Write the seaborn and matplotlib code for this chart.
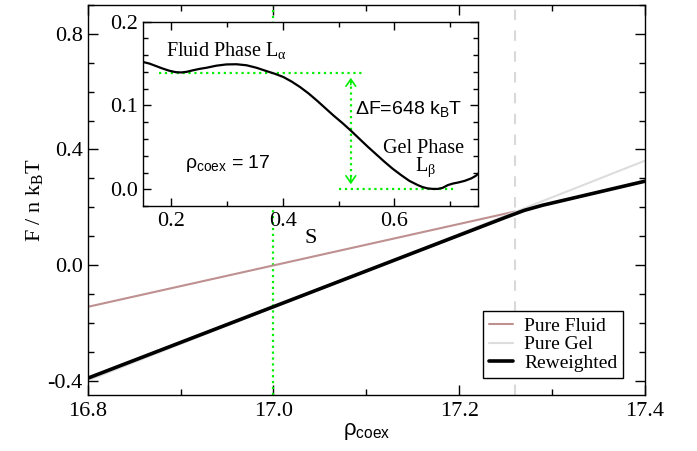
import numpy as np
import pandas as pd
import matplotlib
matplotlib.use("Agg")
import matplotlib.pyplot as plt
from matplotlib.ticker import MultipleLocator, FormatStrFormatter
import seaborn as sns

# main panel: free energy per molecule vs density
rho_fluid = [16.8, 17.26]
F_fluid = [-0.145, 0.185]
rho_gel = [16.8, 17.4]
F_gel = [-0.40, 0.361]
rho_rew = [16.8, 17.25, 17.27, 17.29, 17.4]
F_rew = [-0.392, 0.165, 0.189, 0.207, 0.29]
rho_coex = 17.26
rho_marked = 17.0

# inset: free energy profile along order parameter S at rho = 17
S_vals = [0.149, 0.161, 0.173, 0.185, 0.197, 0.208, 0.218, 0.228, 0.239, 0.251,
          0.263, 0.281, 0.299, 0.317, 0.335, 0.353, 0.371, 0.386, 0.401, 0.416,
          0.431, 0.446, 0.461, 0.476, 0.491, 0.507, 0.522, 0.537, 0.552, 0.567,
          0.582, 0.597, 0.612, 0.627, 0.642, 0.651, 0.660, 0.669, 0.678, 0.687,
          0.696, 0.705, 0.714, 0.726, 0.738, 0.746, 0.753]
F_S = [0.152, 0.150, 0.147, 0.144, 0.1414, 0.1398, 0.1394, 0.1402, 0.142, 0.1437,
       0.145, 0.1475, 0.149, 0.1492, 0.148, 0.145, 0.141, 0.1378, 0.134, 0.1285,
       0.122, 0.1145, 0.106, 0.097, 0.088, 0.079, 0.070, 0.0605, 0.051, 0.042,
       0.033, 0.0245, 0.017, 0.010, 0.005, 0.0025, 0.001, 0.0004, 0.0004, 0.0018,
       0.005, 0.0068, 0.008, 0.010, 0.013, 0.016, 0.020]
F_fluid_min = 0.139
F_gel_min = 0.0

sns.set_style("ticks")
plt.rcParams["font.family"] = ["Liberation Serif", "DejaVu Serif"]
plt.rcParams["axes.unicode_minus"] = False
plt.rcParams["mathtext.default"] = "regular"
for key in ["text.color", "axes.labelcolor", "xtick.color", "ytick.color", "axes.edgecolor"]:
    plt.rcParams[key] = "black"

green = "#00ee00"
sans = ["Liberation Sans", "DejaVu Sans"]

fig = plt.figure(figsize=(6.97, 4.51), dpi=100)
ax = fig.add_axes([0.1258, 0.1242, 0.7996, 0.8648])

ax.axvline(rho_marked, color=green, ls=":", lw=1.6, zorder=1)
ax.axvline(rho_coex, color="#d9d9d9", ls=(0, (5, 5)), lw=1.5, zorder=1)

main = pd.concat([
    pd.DataFrame({"rho": rho_fluid, "F": F_fluid, "kind": "Pure Fluid"}),
    pd.DataFrame({"rho": rho_gel, "F": F_gel, "kind": "Pure Gel"}),
    pd.DataFrame({"rho": rho_rew, "F": F_rew, "kind": "Reweighted"}),
])
sns.lineplot(data=main, x="rho", y="F", hue="kind", size="kind",
             palette={"Pure Fluid": "#bf9090", "Pure Gel": "#dddddd", "Reweighted": "black"},
             sizes={"Pure Fluid": 1.5, "Pure Gel": 1.5, "Reweighted": 2.6},
             ax=ax, zorder=2)

ax.set_xlim(16.8, 17.4)
ax.set_ylim(-0.45, 0.9)
ax.xaxis.set_major_locator(MultipleLocator(0.2))
ax.xaxis.set_minor_locator(MultipleLocator(0.1))
ax.yaxis.set_major_locator(MultipleLocator(0.4))
ax.yaxis.set_minor_locator(MultipleLocator(0.1))
ax.xaxis.set_major_formatter(FormatStrFormatter("%.1f"))
ax.yaxis.set_major_formatter(FormatStrFormatter("%.1f"))
ax.tick_params(which="both", direction="in", top=True, right=True, width=1, labelsize=16)
ax.tick_params(which="major", length=7.5)
ax.tick_params(which="minor", length=4)
ax.tick_params(axis="y", pad=3.5)
ax.tick_params(axis="x", pad=5)
for sp in ax.spines.values():
    sp.set_linewidth(1.0)
ax.set_xlabel(r"ρ$_{coex}$", fontsize=16, family=sans, labelpad=0)
ax.set_ylabel(r"F / n k$_B$T", fontsize=16, labelpad=2)

leg = ax.legend(loc="lower right", bbox_to_anchor=(0.961, 0.044), borderaxespad=0,
                fontsize=14, frameon=True, fancybox=False,
                edgecolor="black", framealpha=1, handlelength=1.2, handletextpad=0.6,
                labelspacing=0.05, borderpad=0.3)
leg.get_frame().set_linewidth(1.0)

# inset
ins = fig.add_axes([0.2056, 0.5432, 0.4802, 0.4087])
ins.set_facecolor("white")
sns.lineplot(x=S_vals, y=F_S, color="black", lw=1.6, ax=ins, zorder=3)
ins.plot([0.179, 0.546], [F_fluid_min, F_fluid_min], color=green, ls=":", lw=1.6)
ins.plot([0.50, 0.711], [F_gel_min, F_gel_min], color=green, ls=":", lw=1.6)
ins.plot([0.522, 0.522], [0.007, 0.132], color=green, ls=":", lw=1.6)
for y0, y1 in [(0.125, 0.133), (0.014, 0.006)]:
    ins.annotate("", xy=(0.522, y1), xytext=(0.522, y0),
                 arrowprops=dict(arrowstyle="->,head_length=0.5,head_width=0.35",
                                 color=green, lw=1.2, shrinkA=0, shrinkB=0))
ins.set_xlim(0.15, 0.75)
ins.set_ylim(-0.02, 0.2)
ins.xaxis.set_major_locator(MultipleLocator(0.2))
ins.xaxis.set_minor_locator(MultipleLocator(0.1))
ins.yaxis.set_major_locator(MultipleLocator(0.1))
ins.yaxis.set_minor_locator(MultipleLocator(0.02))
ins.xaxis.set_major_formatter(FormatStrFormatter("%.1f"))
ins.yaxis.set_major_formatter(FormatStrFormatter("%.1f"))
ins.tick_params(which="both", direction="in", top=True, right=True, width=1, labelsize=16)
ins.tick_params(which="major", length=6)
ins.tick_params(which="minor", length=3.5)
ins.tick_params(axis="both", pad=4)
for sp in ins.spines.values():
    sp.set_linewidth(1.0)
ins.set_xlabel("S", fontsize=16, labelpad=-1)
ins.set_ylabel("")

ins.text(0.19, 0.166, r"Fluid Phase L$_α$", fontsize=14.5, va="center", ha="left")
ins.text(0.53, 0.096, r"ΔF=648 k$_B$T", fontsize=14, family=sans, va="center", ha="left")
ins.text(0.652, 0.049, "Gel Phase", fontsize=14.5, va="center", ha="center")
ins.text(0.656, 0.026, r"L$_β$", fontsize=14.5, va="center", ha="center")
ins.text(0.224, 0.031, r"ρ$_{coex}$ = 17", fontsize=14, family=sans, va="center", ha="left")

fig.savefig("out.png", dpi=100)
